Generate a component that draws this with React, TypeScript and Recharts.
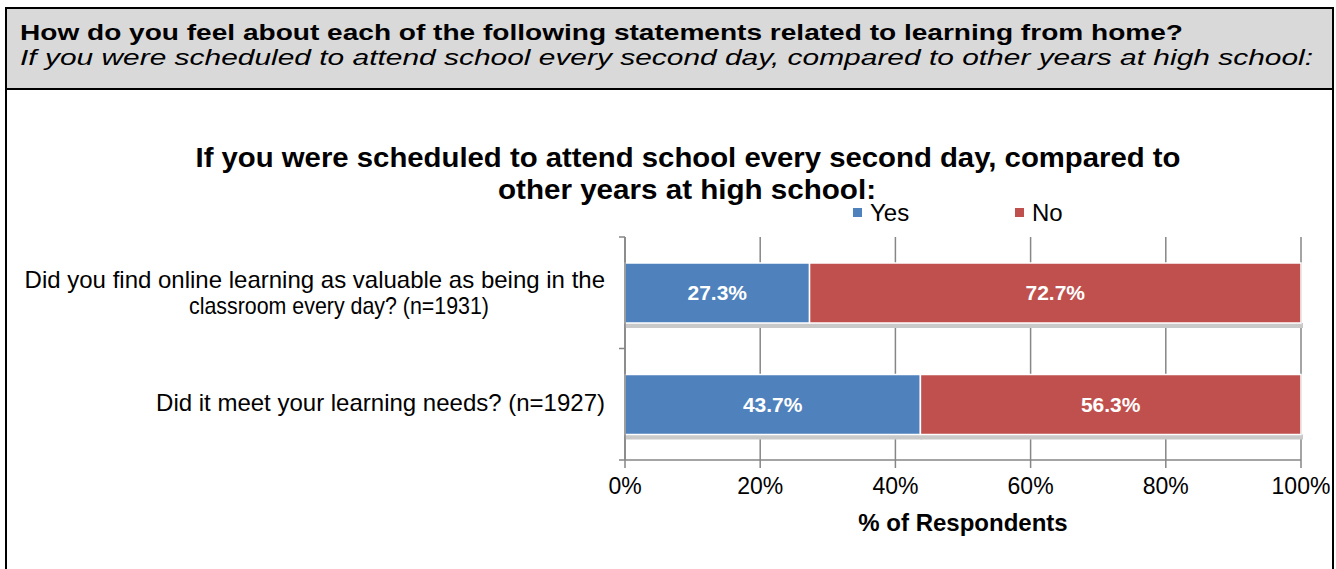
import React from 'react';
import { BarChart, Bar, XAxis, YAxis, CartesianGrid, LabelList, Label } from 'recharts';

const categories = [
  'Did you find online learning as valuable as being in the|classroom every day? (n=1931)',
  'Did it meet your learning needs? (n=1927)',
];
const yesValues = [27.3, 43.7];
const noValues = [72.7, 56.3];
const xTicks = [0, 20, 40, 60, 80, 100];
const seriesNames = ['Yes', 'No'];
const seriesColors = ['#4f81bd', '#c0504d'];
const headerTitle = 'How do you feel about each of the following statements related to learning from home?';
const headerSubtitle = 'If you were scheduled to attend school every second day, compared to other years at high school:';
const chartTitleLines = ['If you were scheduled to attend school every second day, compared to', 'other years at high school:'];
const xAxisTitle = '% of Respondents';

const data = categories.map((c, i) => ({ name: c, yes: yesValues[i], no: noValues[i] }));

const FONT = '"Liberation Sans", Arial, sans-serif';

const ShadowBar = (props: any) => {
  const { x, y, width, height, fill } = props;
  if (width == null || width <= 0) return null;
  return (
    <g>
      <rect x={x} y={y + height} width={width + 2} height={5} fill="#c9c9c9" />
      <rect x={x} y={y} width={width} height={height} fill={fill} stroke="#ffffff" strokeWidth={1.5} />
    </g>
  );
};

const YTick = (props: any) => {
  const { x, y, payload, index, visibleTicksCount } = props;
  const lines = String(payload.value).split('|');
  const half = payload.offset || 55;
  const axisX = x + 20;
  const common = { fill: '#000', fontFamily: FONT, dominantBaseline: 'central' as const };
  return (
    <g>
      <line x1={axisX - 6} x2={axisX} y1={y - half} y2={y - half} stroke="#868686" strokeWidth={1.5} />
      {index === (visibleTicksCount ?? 2) - 1 && (
        <line x1={axisX - 6} x2={axisX} y1={y + half} y2={y + half} stroke="#868686" strokeWidth={1.5} />
      )}
      {lines.length === 1 ? (
        <text x={x} y={y - 2} textAnchor="end" fontSize={24} {...common}>
          {lines[0]}
        </text>
      ) : (
        <g>
          <text x={x} y={y - 13} textAnchor="end" fontSize={24} {...common}>
            {lines[0]}
          </text>
          <text x={x - 266} y={y + 13} textAnchor="middle" fontSize={24} textLength={300} lengthAdjust="spacingAndGlyphs" {...common}>
            {lines[1]}
          </text>
        </g>
      )}
    </g>
  );
};

const AxisTitle = (props: any) => {
  const vb = props.viewBox || {};
  return (
    <text x={vb.x + vb.width / 2} y={vb.y + vb.height + 1} textAnchor="middle" fontSize={24} fontWeight="bold" fill="#000" fontFamily={FONT}>
      {xAxisTitle}
    </text>
  );
};

export default function App() {
  return (
    <div style={{ position: 'absolute', left: 0, top: 0, width: 1336, height: 569, overflow: 'hidden', background: '#fff', fontFamily: FONT }}>
      <div style={{ position: 'absolute', left: 5, top: 7, width: 1329, height: 620, boxSizing: 'border-box', border: '2px solid #000' }}>
        <div style={{ height: 79, background: '#d9d9d9', borderBottom: '2px solid #000' }} />
      </div>
      <svg width={1336} height={569} style={{ position: 'absolute', left: 0, top: 0 }}>
        <text x={20} y={40} fontSize={22} fontWeight="bold" fill="#000" fontFamily={FONT} textLength={1163} lengthAdjust="spacingAndGlyphs">
          {headerTitle}
        </text>
        <text x={20} y={65} fontSize={22} fontStyle="italic" fill="#000" fontFamily={FONT} textLength={1293} lengthAdjust="spacingAndGlyphs">
          {headerSubtitle}
        </text>
        <text x={688} y={167} textAnchor="middle" fontSize={28} fontWeight="bold" fill="#000" fontFamily={FONT} textLength={985} lengthAdjust="spacingAndGlyphs">
          {chartTitleLines[0]}
        </text>
        <text x={687} y={199} textAnchor="middle" fontSize={28} fontWeight="bold" fill="#000" fontFamily={FONT} textLength={378} lengthAdjust="spacingAndGlyphs">
          {chartTitleLines[1]}
        </text>
        {seriesNames.map((n, i) => (
          <g key={n}>
            <rect x={853 + i * 162} y={208} width={9} height={9} fill={seriesColors[i]} />
            <text x={870 + i * 162} y={221} fontSize={24} fill="#000" fontFamily={FONT}>
              {n}
            </text>
          </g>
        ))}
      </svg>
      <div style={{ position: 'absolute', left: 0, top: 0 }}>
        <BarChart
          width={1336}
          height={569}
          data={data}
          layout="vertical"
          margin={{ top: 237, right: 35, bottom: 39, left: 0 }}
          barSize={60}
        >
          <CartesianGrid horizontal={false} vertical={true} stroke="#868686" strokeWidth={1.5} />
          <XAxis
            type="number"
            domain={[0, 100]}
            ticks={xTicks}
            tickFormatter={(v: number) => `${v}%`}
            axisLine={{ stroke: '#868686', strokeWidth: 1.5 }}
            tickLine={{ stroke: '#868686', strokeWidth: 1.5 }}
            tickSize={8}
            tickMargin={10}
            tick={{ fontSize: 23, fill: '#000', fontFamily: FONT }}
            height={70}
            interval={0}
          >
            <Label content={<AxisTitle />} />
          </XAxis>
          <YAxis
            type="category"
            dataKey="name"
            width={625}
            axisLine={{ stroke: '#868686', strokeWidth: 1.5 }}
            tickLine={false}
            tickSize={0}
            tickMargin={20}
            tick={<YTick />}
            interval={0}
          />
          <Bar dataKey="yes" stackId="a" fill={seriesColors[0]} name="Yes" isAnimationActive={false} shape={<ShadowBar />}>
            <LabelList dataKey="yes" position="center" formatter={(v: any) => `${Number(v).toFixed(1)}%`} fill="#fff" fontSize={21} fontWeight="bold" fontFamily={FONT} />
          </Bar>
          <Bar dataKey="no" stackId="a" fill={seriesColors[1]} name="No" isAnimationActive={false} shape={<ShadowBar />}>
            <LabelList dataKey="no" position="center" formatter={(v: any) => `${Number(v).toFixed(1)}%`} fill="#fff" fontSize={21} fontWeight="bold" fontFamily={FONT} />
          </Bar>
        </BarChart>
      </div>
    </div>
  );
}
